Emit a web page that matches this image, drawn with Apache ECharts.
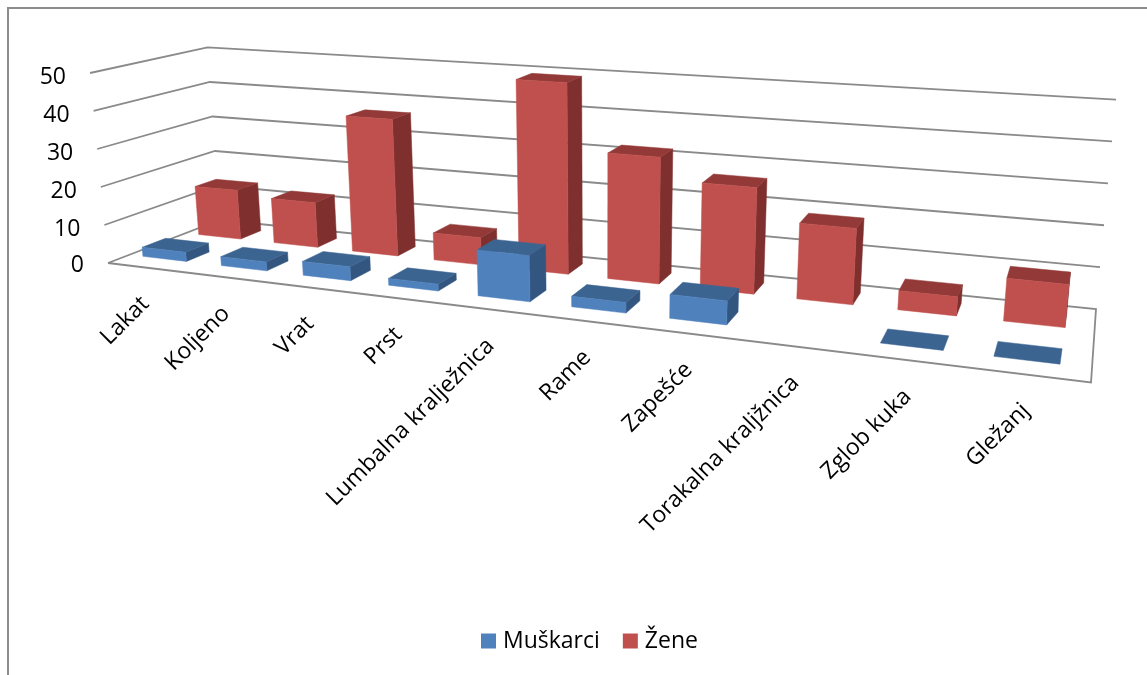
<!DOCTYPE html>
<html><head><meta charset="utf-8">
<style>html,body{margin:0;padding:0;background:#fff}#c{width:1147px;height:675px}</style>
<script src="https://cdn.jsdelivr.net/npm/echarts@6/dist/echarts.min.js"></script>
</head><body><div id="c"></div>
<script>
const categories = ['Lakat','Koljeno','Vrat','Prst','Lumbalna kralježnica','Rame','Zapešće','Torakalna kraljžnica','Zglob kuka','Gležanj'];
const muskarci = [2.4, 2.3, 3.5, 1.7, 11.2, 2.5, 5.6, null, 0, 0];
const zene = [13.4, 12, 36, 7, 48.5, 31.5, 26, 18.3, 4.5, 10];
const levels = [0, 10, 20, 30, 40, 50];

// Perspective frame of the 3D box: floor corners FL, FR, BR, BL
const floorQuad = [[108,263],[1091,382.5],[1096,309],[220,220]];
// Vanishing point of the verticals and height scale at FL, FR, BR, BL
const VP = [602,5480];
const heightScale = [0.03642,0.0451,0.0405,0.0328];
const U_WARP = 1.07;
const U_SHIFT = -0.0045;
const VMAX = 50;
const BAR_W = 0.56;
const ROWS = {front:[0.175,0.375], back:[0.67,0.87]};
const FONT = '23px "Open Sans"';

function homography(q){
  const [p0,p1,p2,p3]=q;
  const dx1=p1[0]-p2[0],dx2=p3[0]-p2[0],sx=p0[0]-p1[0]+p2[0]-p3[0];
  const dy1=p1[1]-p2[1],dy2=p3[1]-p2[1],sy=p0[1]-p1[1]+p2[1]-p3[1];
  const den=dx1*dy2-dx2*dy1;
  const g=(sx*dy2-dx2*sy)/den,h=(dx1*sy-sx*dy1)/den;
  const a=p1[0]-p0[0]+g*p1[0],b=p3[0]-p0[0]+h*p3[0],c=p0[0];
  const d=p1[1]-p0[1]+g*p1[1],e=p3[1]-p0[1]+h*p3[1],f=p0[1];
  return (u,v)=>{const w=g*u+h*v+1;return [(a*u+b*v+c)/w,(d*u+e*v+f)/w];};
}
const floorH=homography(floorQuad);
function project(u,d,t){
  const ue=u*U_WARP/(1+(U_WARP-1)*u);
  const F=floorH(ue,d);
  const [a,b,c,e]=heightScale;
  const s=((1-ue)*(1-d)*a+ue*(1-d)*b+ue*d*c+(1-ue)*d*e)*t;
  return [F[0]-(VP[0]-F[0])*s,F[1]-(VP[1]-F[1])*s];
}
// grid pixel -> normalized (u, t) using the library's own scales
function norm(params,api,cat,val){
  const r=params.coordSys, c=api.coord([cat,val]);
  return {u:(c[0]-r.x)/r.width,t:(r.y+r.height-c[1])/r.height,cw:api.size([1,0])[0]/r.width};
}
function poly(points,fill){return {type:'polygon',shape:{points},style:{fill,stroke:fill,lineWidth:0.5},silent:true};}
function barRender(row,cols){
  return function(params,api){
    const v=api.value(1);
    if(v==null||isNaN(v))return;
    const n=norm(params,api,api.value(0),v);
    const hw=n.cw*BAR_W/2,uc=n.u+U_SHIFT,uL=uc-hw,uR=uc+hw,[d1,d2]=row,t=n.t;
    const kids=[];
    if(t>0){
      kids.push(poly([project(uR,d1,0),project(uR,d2,0),project(uR,d2,t),project(uR,d1,t)],cols.side));
    }
    kids.push(poly([project(uL,d1,t),project(uR,d1,t),project(uR,d2,t),project(uL,d2,t)],cols.top));
    if(t>0){
      kids.push(poly([project(uL,d1,0),project(uR,d1,0),project(uR,d1,t),project(uL,d1,t)],cols.front));
    }
    return {type:'group',children:kids};
  };
}
function wallRender(params,api){
  const n=norm(params,api,0,api.value(0)),t=n.t,kids=[];
  const stroke='#8a8a8a',lineWidth=1.8;
  const a=project(0,0,t),b=project(0,1,t),c=project(1,1,t);
  const pts=t===0?[a,b,c,project(1,0,0),a]:[a,b,c];
  kids.push({type:'polyline',shape:{points:pts},style:{stroke,lineWidth,fill:null},silent:true});
  kids.push({type:'text',x:a[0]-24,y:a[1]+(t>0?4.5:2),silent:true,style:{text:String(api.value(0)),align:'right',verticalAlign:'middle',font:FONT,fill:'#000'}});
  return {type:'group',children:kids};
}
function labelRender(params,api){
  const i=api.value(0),n=norm(params,api,i,0),p=project(n.u+U_SHIFT,0,0);
  return {type:'text',x:p[0]+2,y:p[1]+33,rotation:Math.PI/4,silent:true,
    style:{text:categories[i],align:'right',verticalAlign:'middle',font:FONT,fill:'#000'}};
}
const chart=echarts.init(document.getElementById('c'),null,{renderer:'canvas'});
chart.setOption({
  animation:false,
  backgroundColor:'#fff',
  grid:{left:108,top:73,width:983,height:190,containLabel:false},
  xAxis:{type:'category',data:categories,show:false},
  yAxis:{type:'value',min:0,max:VMAX,interval:10,show:false},
  legend:{data:['Muškarci','Žene'],left:476,top:624.5,itemWidth:15,itemHeight:15,itemGap:23,icon:'rect',
    textStyle:{fontFamily:'Open Sans',fontSize:23,color:'#000',padding:[0,0,0,2]}},
  graphic:[{type:'polyline',shape:{points:[[8,675],[8,8],[1147,8]]},style:{stroke:'#8c8c8c',lineWidth:2,fill:null},silent:true}],
  series:[
    {name:'walls',type:'custom',z:1,coordinateSystem:'cartesian2d',renderItem:wallRender,
      data:levels.map(l=>[l]),encode:{y:0},silent:true},
    {name:'labels',type:'custom',z:1,coordinateSystem:'cartesian2d',renderItem:labelRender,
      data:categories.map((c,i)=>[i]),encode:{x:0},silent:true},
    {name:'Muškarci',type:'custom',z:3,coordinateSystem:'cartesian2d',
      itemStyle:{color:'#4f81bd'},encode:{x:0,y:1},
      renderItem:barRender(ROWS.front,{front:'#4f81bd',top:'#3c6490',side:'#335680'}),
      data:muskarci.map((v,i)=>[i,v==null?'-':v])},
    {name:'Žene',type:'custom',z:2,coordinateSystem:'cartesian2d',
      itemStyle:{color:'#c0504d'},encode:{x:0,y:1},
      renderItem:barRender(ROWS.back,{front:'#c0504d',top:'#933a38',side:'#7e2f2e'}),
      data:zene.map((v,i)=>[i,v])}
  ]
});
</script></body></html>
